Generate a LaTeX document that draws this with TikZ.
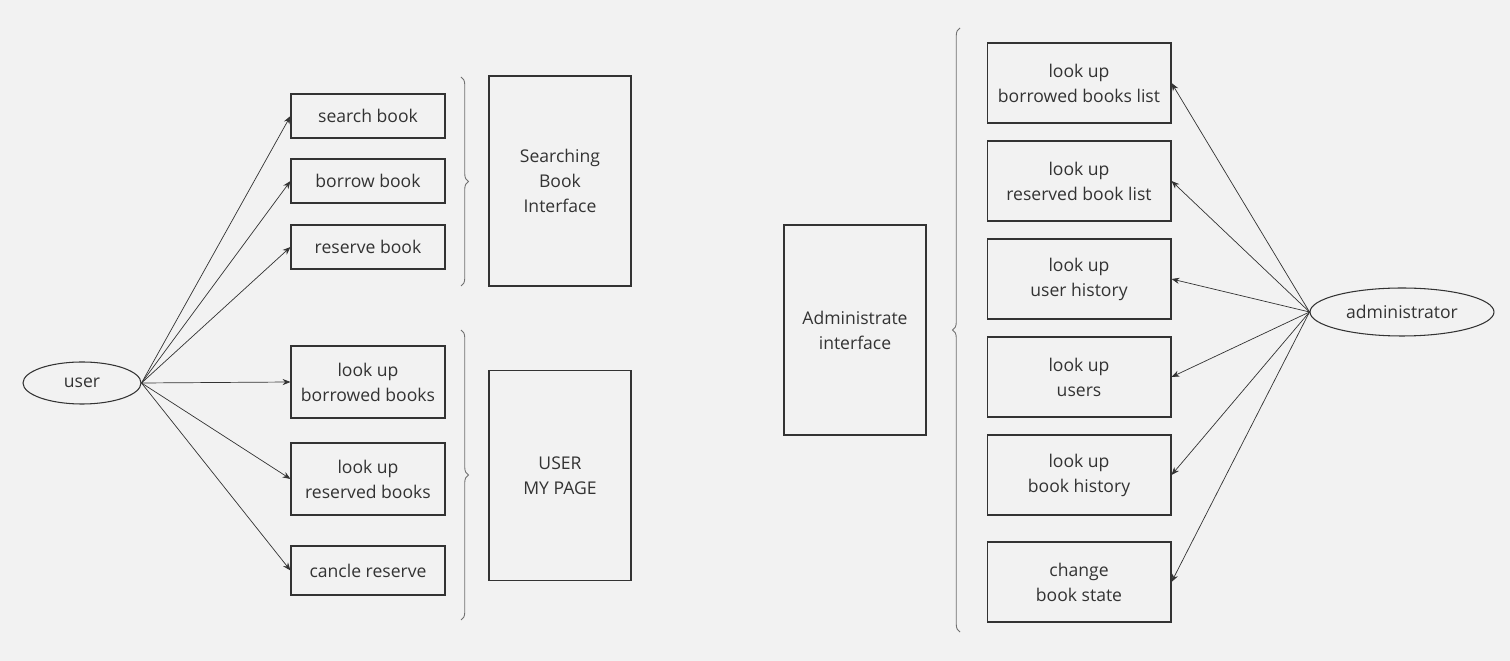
\documentclass[tikz,border=0pt]{standalone}
\usepackage{fontspec}
\setmainfont{Open Sans}
\usetikzlibrary{arrows.meta,decorations.pathreplacing,shapes.geometric}

\definecolor{bggray}{HTML}{F2F2F2}
\definecolor{inkgray}{HTML}{333333}
\definecolor{bracegray}{HTML}{707070}

\tikzset{
  usecase/.style={draw=inkgray, line width=0.6pt, text=inkgray, align=center,
    font=\fontsize{10}{14.2}\selectfont, inner sep=0pt},
  smallbox/.style={usecase, minimum width=3.08cm},
  bigbox/.style={usecase, minimum width=2.84cm, minimum height=4.2cm},
  adminbox/.style={usecase, minimum width=3.68cm, minimum height=1.6cm},
  actor/.style={usecase, ellipse},
  link/.style={draw=inkgray, line width=0.4pt, -{Stealth[length=4.5pt,width=3.5pt]}},
  groupbrace/.style={draw=bracegray, line width=0.5pt,
    decorate, decoration={brace, amplitude=0.15cm}}
}

\begin{document}
\begin{tikzpicture}[x=0.02cm, y=-0.02cm]

    % Background
    \fill[bggray] (0,0) rectangle (1510,661);
    \useasboundingbox (0,0) rectangle (1510,661);

    % Actor user
    \node[actor, minimum width=2.36cm, minimum height=0.84cm] (user) at (82,383) {user};

    % User use cases
    \node[smallbox, minimum height=0.88cm] (search) at (368,116) {search book};
    \node[smallbox, minimum height=0.88cm] (borrow) at (368,181) {borrow book};
    \node[smallbox, minimum height=0.88cm] (reserve) at (368,247) {reserve book};
    \node[smallbox, minimum height=1.44cm] (myborrowed) at (368,382) {look up\\borrowed books};
    \node[smallbox, minimum height=1.44cm] (myreserved) at (368,479) {look up\\reserved books};
    \node[smallbox, minimum height=0.98cm] (cancel) at (368,570.5) {cancle reserve};

    % Interfaces on the left
    \node[bigbox] (searchui) at (560,181) {Searching\\Book\\Interface};
    \node[bigbox] (mypage) at (560,475.5) {USER\\MY PAGE};

    % Braces grouping the use cases
    \draw[groupbrace] (461,77) -- (461,286);
    \draw[groupbrace] (461,330) -- (461,620);

    % Arrows from user
    \foreach \target in {search, borrow, reserve, myborrowed, myreserved, cancel}
      \draw[link] (user.east) -- (\target.west);

    % Administrate interface
    \node[bigbox] (adminui) at (855,330) {Administrate\\interface};

    % Brace grouping the admin use cases
    \draw[groupbrace] (960,632) -- (960,28);

    % Admin use cases
    \node[adminbox] (borrowedlist) at (1079,83) {look up\\borrowed books list};
    \node[adminbox] (reservedlist) at (1079,181) {look up\\reserved book list};
    \node[adminbox] (userhistory) at (1079,279) {look up\\user history};
    \node[adminbox] (users) at (1079,377) {look up\\users};
    \node[adminbox] (bookhistory) at (1079,475) {look up\\book history};
    \node[adminbox] (bookstate) at (1079,582) {change\\book state};

    % Actor administrator
    \node[actor, minimum width=3.68cm, minimum height=0.96cm] (admin) at (1402,312) {administrator};

    % Arrows from administrator
    \foreach \target in {borrowedlist, reservedlist, userhistory, users, bookhistory, bookstate}
      \draw[link] (admin.west) -- (\target.east);

\end{tikzpicture}
\end{document}
